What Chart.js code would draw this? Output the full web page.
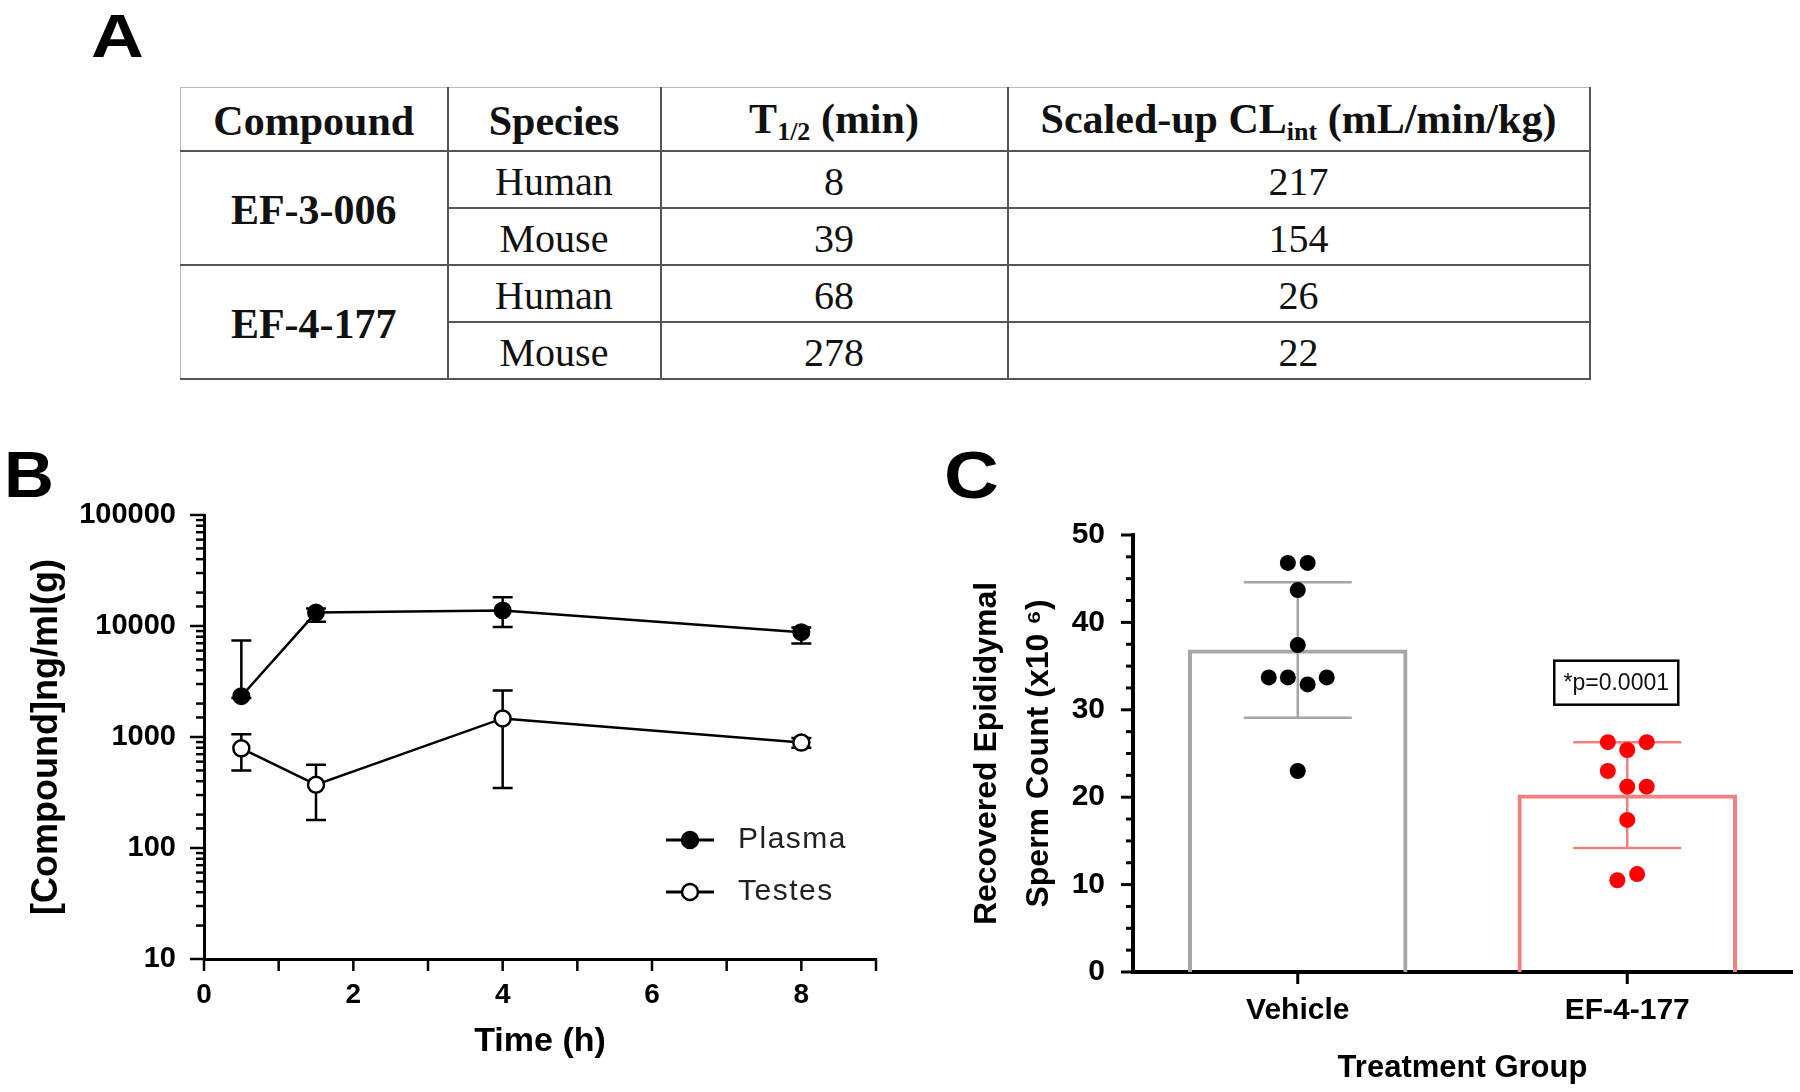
<!DOCTYPE html>
<html>
<head>
<meta charset="utf-8">
<script src="https://cdn.jsdelivr.net/npm/chart.js@4.4.1/dist/chart.umd.min.js"></script>
<style>
  body { margin: 0; background: #fff; }
  #page { position: relative; width: 1800px; height: 1092px; overflow: hidden; }
  .letter { position: absolute; font-family: 'Liberation Sans', Arial, sans-serif; font-weight: bold; line-height: 1; color: #000; transform-origin: left top; }
  table { position: absolute; left: 180px; top: 87px; width: 1409px; table-layout: fixed; border-collapse: collapse;
          font-family: 'Liberation Serif', 'Times New Roman', serif; font-size: 40px; color: #111; }
  th, td { border: 2px solid #555; text-align: center; padding: 4px 0 0 0; }
  th { font-size: 42px; font-weight: bold; }
  tr.head { height: 63px; }
  tr.row { height: 57px; }
  tr.head th { border-top: 1px solid #bbb; }
  tr > :first-child { border-left: 1px solid #bbb; }
  sub { font-size: 0.62em; vertical-align: -0.25em; }
  .cv { position: absolute; top: 440px; width: 900px; height: 652px; }
</style>
</head>
<body>
<div id="page">
  <div class="letter" style="left:91px; top:5px; font-size:62px; transform:scaleX(1.18);">A</div>
  <div class="letter" style="left:4px; top:443px; font-size:64px; transform:scaleX(1.08);">B</div>
  <div class="letter" style="left:944px; top:442px; font-size:66px; transform:scaleX(1.15);">C</div>

  <table>
    <colgroup><col style="width:267px"><col style="width:213px"><col style="width:347px"><col style="width:582px"></colgroup>
    <tr class="head"><th>Compound</th><th>Species</th><th>T<sub>1/2</sub> (min)</th><th>Scaled-up CL<sub>int</sub> (mL/min/kg)</th></tr>
    <tbody id="tbody"></tbody>
  </table>

  <div class="cv" style="left:0px;"><canvas id="chartB" width="900" height="652"></canvas></div>
  <div class="cv" style="left:900px;"><canvas id="chartC" width="900" height="652"></canvas></div>
</div>

<script>
// ---- table A ----
const compounds = ['EF-3-006', 'EF-4-177'];
const species = ['Human', 'Mouse'];
const halfLife = [[8, 39], [68, 278]];
const clint = [[217, 154], [26, 22]];

// ---- panel B: PK ----
const timeH = [0.5, 1.5, 4, 8];
const plasmaMean = [2330, 13200, 13800, 8800];
const plasmaLow = [2250, 10900, 9800, 6950];
const plasmaHigh = [7400, 14400, 18200, 9700];
const testesMean = [790, 372, 1470, 890];
const testesLow = [500, 179, 347, 800];
const testesHigh = [1060, 562, 2620, 980];
const xTicksB = [0, 2, 4, 6, 8];
const yTicksB = [10, 100, 1000, 10000, 100000];

// ---- panel C: sperm count ----
const groups = ['Vehicle', 'EF-4-177'];
const groupMean = [36.9, 20.3];
const groupSdLow = [29.1, 14.2];
const groupSdHigh = [44.6, 26.3];
const vehicleCounts = [46.8, 46.8, 43.7, 37.4, 33.7, 33.7, 33.7, 32.9, 23.0];
const vehicleJitter = [-0.03, 0.03, 0, 0, -0.088, -0.03, 0.088, 0.03, 0];
const efCounts = [26.3, 26.3, 25.4, 23.0, 21.2, 21.2, 17.4, 10.5, 11.2];
const efJitter = [-0.059, 0.059, 0, -0.059, 0, 0.059, 0, -0.03, 0.03];
const pValueText = '*p=0.0001';
const pValueY = 33.1;

const tb = document.getElementById('tbody');
compounds.forEach((c, i) => {
  species.forEach((s, j) => {
    const tr = document.createElement('tr');
    tr.className = 'row';
    if (j === 0) {
      const th = document.createElement('th');
      th.rowSpan = species.length;
      th.textContent = c;
      tr.appendChild(th);
    }
    [s, halfLife[i][j], clint[i][j]].forEach(v => {
      const td = document.createElement('td');
      td.textContent = v;
      tr.appendChild(td);
    });
    tb.appendChild(tr);
  });
});

const SANS = "'Liberation Sans', Arial, sans-serif";

// draws tick marks with a length per tick
function makeTicks(lens, width) {
  return {
    id: 'tickMarks',
    afterDraw(chart) {
      const ctx = chart.ctx;
      ctx.save();
      ctx.strokeStyle = '#000';
      ctx.lineWidth = width;
      for (const id in lens) {
        const s = chart.scales[id];
        s.ticks.forEach((t, i) => {
          const L = lens[id](t.value);
          const p = s.getPixelForTick(i);
          ctx.beginPath();
          if (s.isHorizontal()) { ctx.moveTo(p, s.top); ctx.lineTo(p, s.top + L); }
          else { ctx.moveTo(s.right + 1, p); ctx.lineTo(s.right - L, p); }
          ctx.stroke();
        });
      }
      ctx.restore();
    }
  };
}

const isDecade = v => Math.abs(Math.log10(v) - Math.round(Math.log10(v))) < 1e-9;

// error bars for B
const errorBarsB = {
  id: 'errorBarsB',
  beforeDatasetsDraw(chart) {
    const {ctx, scales: {x, y}} = chart;
    const sets = [[plasmaLow, plasmaHigh], [testesLow, testesHigh]];
    ctx.save();
    ctx.strokeStyle = '#000';
    ctx.lineWidth = 2.5;
    sets.forEach(([lo, hi]) => {
      timeH.forEach((t, i) => {
        const px = x.getPixelForValue(t);
        const y1 = y.getPixelForValue(lo[i]);
        const y2 = y.getPixelForValue(hi[i]);
        ctx.beginPath();
        ctx.moveTo(px, y1); ctx.lineTo(px, y2);
        ctx.moveTo(px - 10, y1); ctx.lineTo(px + 10, y1);
        ctx.moveTo(px - 10, y2); ctx.lineTo(px + 10, y2);
        ctx.stroke();
      });
    });
    ctx.restore();
  }
};

// legend for B
const legendB = {
  id: 'legendB',
  afterDraw(chart) {
    const ctx = chart.ctx;
    const items = [['Plasma', '#000'], ['Testes', '#fff']];
    ctx.save();
    items.forEach(([name, fill], i) => {
      const yy = 400 + i * 52;
      ctx.strokeStyle = '#000';
      ctx.lineWidth = 3;
      ctx.beginPath(); ctx.moveTo(666, yy); ctx.lineTo(714, yy); ctx.stroke();
      ctx.beginPath(); ctx.arc(690, yy, 8, 0, Math.PI * 2);
      ctx.fillStyle = fill; ctx.fill(); ctx.lineWidth = 2.5; ctx.stroke();
      ctx.fillStyle = '#222';
      ctx.font = '30px ' + SANS;
      ctx.letterSpacing = '1.5px';
      ctx.textBaseline = 'middle';
      ctx.fillText(name, 738, yy);
    });
    ctx.restore();
  }
};

new Chart(document.getElementById('chartB'), {
  type: 'line',
  data: {
    datasets: [
      { label: 'Plasma', data: timeH.map((t, i) => ({x: t, y: plasmaMean[i]})),
        borderColor: '#000', borderWidth: 2.5, pointRadius: 8, pointBackgroundColor: '#000',
        pointBorderColor: '#000', pointBorderWidth: 2 },
      { label: 'Testes', data: timeH.map((t, i) => ({x: t, y: testesMean[i]})),
        borderColor: '#000', borderWidth: 2.5, pointRadius: 8, pointBackgroundColor: '#fff',
        pointBorderColor: '#000', pointBorderWidth: 2.5 }
    ]
  },
  options: {
    responsive: false,
    animation: false,
    devicePixelRatio: 1,
    layout: { padding: { left: 0, right: 24, top: 75, bottom: 0 } },
    plugins: { legend: { display: false }, tooltip: { enabled: false } },
    scales: {
      x: {
        type: 'linear', min: 0, max: 9,
        grid: { display: false },
        border: { color: '#000', width: 3 },
        ticks: { stepSize: 1, autoSkip: false, maxRotation: 0, padding: 11, color: '#000',
                 font: { family: SANS, size: 28, weight: 'bold' },
                 callback: v => xTicksB.includes(v) ? String(v) : '' },
        title: { display: true, text: 'Time (h)', color: '#000', padding: { top: 0, bottom: 30 },
                 font: { family: SANS, size: 34, weight: 'bold' } },
        afterFit: s => { s.height = 133; }
      },
      y: {
        type: 'logarithmic', min: 10, max: 100000,
        grid: { display: false },
        border: { color: '#000', width: 3 },
        ticks: { autoSkip: false, padding: 20, color: '#000',
                 font: { family: SANS, size: 29, weight: 'bold' },
                 callback: v => yTicksB.includes(v) ? String(v) : '' },
        title: { display: true, text: '[Compound]ng/ml(g)', color: '#000', padding: { top: 25, bottom: 0 },
                 font: { family: SANS, size: 36, weight: 'bold' } },
        afterFit: s => { s.width = 204; }
      }
    }
  },
  plugins: [errorBarsB, legendB, makeTicks({ x: () => 12, y: v => isDecade(v) ? 14 : 8 }, 2.5)]
});

// error bars + p-value box for C
const errorBarsC = {
  id: 'errorBarsC',
  afterDatasetDraw(chart, args) {
    if (args.index !== 2) return;
    const {ctx, scales: {x, y}} = chart;
    const cols = ['#a6a6a6', '#f47f7f'];
    ctx.save();
    ctx.lineWidth = 2.5;
    groups.forEach((g, i) => {
      const px = x.getPixelForValue(i);
      const y1 = y.getPixelForValue(groupSdLow[i]);
      const y2 = y.getPixelForValue(groupSdHigh[i]);
      ctx.strokeStyle = cols[i];
      ctx.beginPath();
      ctx.moveTo(px, y1); ctx.lineTo(px, y2);
      ctx.moveTo(px - 54, y1); ctx.lineTo(px + 54, y1);
      ctx.moveTo(px - 54, y2); ctx.lineTo(px + 54, y2);
      ctx.stroke();
    });
    ctx.restore();
  },
  afterDraw(chart) {
    const {ctx, scales: {x, y}} = chart;
    const cx = x.getPixelForValue(1) - 11;
    const cy = y.getPixelForValue(pValueY);
    ctx.save();
    ctx.strokeStyle = '#000';
    ctx.lineWidth = 2.5;
    ctx.strokeRect(cx - 62, cy - 22, 124, 44);
    ctx.fillStyle = '#111';
    ctx.font = '23px ' + SANS;
    ctx.textAlign = 'center';
    ctx.textBaseline = 'middle';
    ctx.fillText(pValueText, cx, cy + 1);
    ctx.restore();
  }
};

new Chart(document.getElementById('chartC'), {
  type: 'bar',
  data: {
    labels: groups,
    datasets: [
      { type: 'scatter', data: vehicleCounts.map((v, i) => ({x: 0 + vehicleJitter[i], y: v})),
        xAxisID: 'xj', pointRadius: 8, pointBackgroundColor: '#000', pointBorderWidth: 0, order: 1 },
      { type: 'scatter', data: efCounts.map((v, i) => ({x: 1 + efJitter[i], y: v})),
        xAxisID: 'xj', pointRadius: 8, pointBackgroundColor: '#ff0000', pointBorderWidth: 0, order: 1 },
      { type: 'bar', data: groupMean, xAxisID: 'x', backgroundColor: 'rgba(255,255,255,0)',
        borderColor: ['#a6a6a6', '#f47f7f'], borderWidth: 4, barPercentage: 0.666, categoryPercentage: 1,
        grouped: false, order: 3 }
    ]
  },
  options: {
    responsive: false,
    animation: false,
    devicePixelRatio: 1,
    layout: { padding: { left: 0, right: 7, top: 95, bottom: 0 } },
    plugins: { legend: { display: false }, tooltip: { enabled: false } },
    scales: {
      x: {
        type: 'category',
        grid: { display: false },
        border: { color: '#000', width: 4 },
        ticks: { padding: 13, color: '#000', font: { family: SANS, size: 30, weight: 'bold' } },
        title: { display: true, text: 'Treatment Group', color: '#000', padding: { top: 0, bottom: 5 },
                 font: { family: SANS, size: 31, weight: 'bold' } },
        afterFit: s => { s.height = 120; }
      },
      xj: { type: 'linear', min: -0.5, max: 1.5, offset: false, display: false },
      y: {
        type: 'linear', min: 0, max: 50,
        grid: { display: false },
        border: { color: '#000', width: 4 },
        ticks: { stepSize: 2.5, autoSkip: false, padding: 20, color: '#000',
                 font: { family: SANS, size: 30, weight: 'bold' },
                 callback: v => v % 10 === 0 ? String(v) : '' },
        title: { display: true, text: ['Recovered Epididymal', 'Sperm Count (x10 \u2076)'], color: '#000',
                 padding: { top: 61, bottom: 0 },
                 font: { family: SANS, size: 32, weight: 'bold', lineHeight: 1.625 } },
        afterFit: s => { s.width = 233; }
      }
    }
  },
  plugins: [errorBarsC, makeTicks({ x: () => 12, y: v => v % 10 === 0 ? 12 : 7 }, 3)]
});
</script>
</body>
</html>
